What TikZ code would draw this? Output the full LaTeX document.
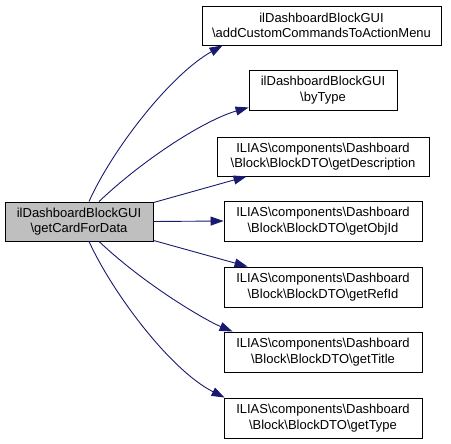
\documentclass[tikz,border=0pt]{standalone}
\usepackage{fontspec}
\setmainfont{Liberation Sans}
\usetikzlibrary{arrows.meta}
\definecolor{edgeblue}{RGB}{25,25,112}
\begin{document}
\begin{tikzpicture}[x=1pt,y=-1pt,
  box/.style={draw=black,line width=0.9pt,fill=white,align=center,inner sep=0pt,
    minimum height=40pt,font=\fontsize{13}{15.3}\selectfont},
  srcbox/.style={box,fill=black!25},
  edge/.style={draw=edgeblue,line width=0.9pt,-{Triangle[length=13pt,width=9pt]}}]
\useasboundingbox (0,0) rectangle (451,444);
\node[srcbox,minimum width=148pt,minimum height=39pt] (src) at (79,221.5) {ilDashboardBlockGUI\\\textbackslash getCardForData};
\node[box,minimum width=239pt,minimum height=39pt] (b1) at (321.5,25.5) {ilDashboardBlockGUI\\\textbackslash addCustomCommandsToActionMenu};
\node[box,minimum width=148pt] (b2) at (323,90) {ilDashboardBlockGUI\\\textbackslash byType};
\node[box,minimum width=212pt,minimum height=39pt] (b3) at (323,156.5) {ILIAS\textbackslash components\textbackslash Dashboard\\\textbackslash Block\textbackslash BlockDTO\textbackslash getDescription};
\node[box,minimum width=198pt] (b4) at (323,221) {ILIAS\textbackslash components\textbackslash Dashboard\\\textbackslash Block\textbackslash BlockDTO\textbackslash getObjId};
\node[box,minimum width=198pt] (b5) at (323,287) {ILIAS\textbackslash components\textbackslash Dashboard\\\textbackslash Block\textbackslash BlockDTO\textbackslash getRefId};
\node[box,minimum width=198pt] (b6) at (323,352) {ILIAS\textbackslash components\textbackslash Dashboard\\\textbackslash Block\textbackslash BlockDTO\textbackslash getTitle};
\node[box,minimum width=198pt] (b7) at (323,418) {ILIAS\textbackslash components\textbackslash Dashboard\\\textbackslash Block\textbackslash BlockDTO\textbackslash getType};
\draw[edge] ([xshift=10pt]src.north) .. controls (112,150) and (170,75) .. ([xshift=21pt]b1.south west);
\draw[edge] ([xshift=20pt]src.north) .. controls (145,158) and (205,120) .. ([yshift=3pt]b2.south west);
\draw[edge] ([yshift=-1pt]src.north east) -- ([xshift=30pt]b3.south west);
\draw[edge] (src.east) -- (b4.west);
\draw[edge] ([yshift=1pt]src.south east) -- ([xshift=24pt]b5.north west);
\draw[edge] ([xshift=20pt]src.south) .. controls (145,285) and (205,320) .. ([xshift=9pt]b6.north west);
\draw[edge] ([xshift=10pt]src.south) .. controls (112,292) and (170,370) .. ([xshift=1pt]b7.north west);
\end{tikzpicture}
\end{document}
